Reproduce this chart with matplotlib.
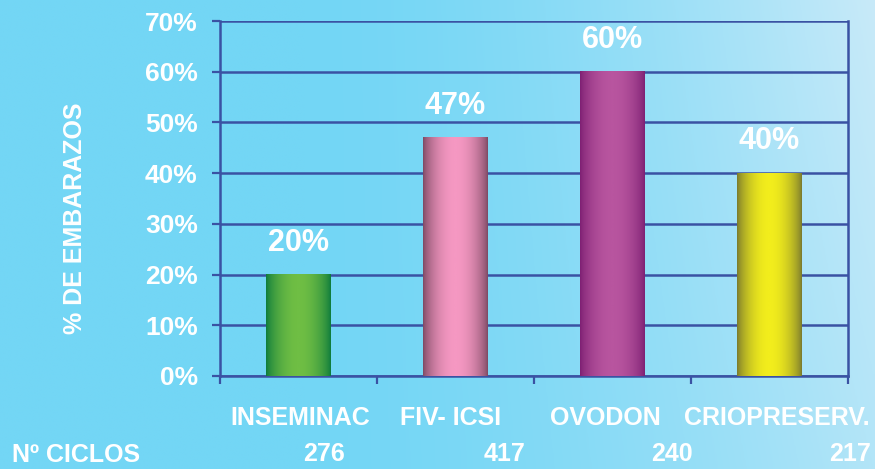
import matplotlib.pyplot as plt
import numpy as np
from matplotlib.colors import LinearSegmentedColormap

# data
categories = ["INSEMINAC", "FIV- ICSI", "OVODON", "CRIOPRESERV."]
values = [20, 47, 60, 40]
ciclos = ["276", "417", "240", "217"]
yticks = [0, 10, 20, 30, 40, 50, 60, 70]

# (edge, center) shading colours of each cylinder
bar_colors = [("#0b7a3c", "#6fbe44"), ("#7a4862", "#f598c2"),
              ("#7c1f72", "#b8559f"), ("#77772e", "#f2ed1c")]
# horizontal offsets of the labels under each bar (layout only)
name_shift = [0.01, -0.03, -0.045, 0.045]
ciclos_shift = [0.16, 0.31, 0.38, 0.51]

plt.rcParams['font.family'] = ['Liberation Sans', 'DejaVu Sans']
plt.rcParams['font.weight'] = 'bold'

fig = plt.figure(figsize=(8.75, 4.69), dpi=100)

# background gradient
bg = fig.add_axes([0, 0, 1, 1], zorder=-10)
xx, yy = np.meshgrid(np.linspace(0, 1, 300), np.linspace(0, 1, 160))
t = np.clip((xx - 0.35) / 0.65, 0, 1) ** 1.6 * (0.75 + 0.25 * yy)
left = np.array([115, 214, 245]) / 255
right = np.array([200, 234, 249]) / 255
img = left[None, None, :] * (1 - t[..., None]) + right[None, None, :] * t[..., None]
bg.imshow(img, origin='lower', aspect='auto', extent=[0, 1, 0, 1])
bg.axis('off')

ax = fig.add_axes([0.2514, 0.1983, 0.7178, 0.7569])
ax.patch.set_alpha(0)
line_col = "#3a52a3"

x = np.arange(len(categories))
bars = ax.bar(x, values, width=0.41, color='none', edgecolor='none', zorder=3)

prof = np.linspace(0, 1, 200)
shade = np.sin(np.pi * prof) ** 0.7
for b, (edge, center), v in zip(bars, bar_colors, values):
    cmap = LinearSegmentedColormap.from_list("c", [edge, center])
    x0, w, h = b.get_x(), b.get_width(), b.get_height()
    ax.imshow(shade[None, :], cmap=cmap, aspect='auto', vmin=0, vmax=1,
              extent=[x0, x0 + w, 0, h], zorder=3)
    ax.annotate(f"{v}%", (x0 + w / 2, h), xytext=(0, 12), textcoords='offset points',
                ha='center', va='bottom', color='white', fontsize=22, fontweight='bold')

ax.set_xlim(-0.5, len(categories) - 0.5)
ax.set_ylim(0, 70)
ax.set_yticks(yticks)
ax.set_yticklabels([f"{v}%" for v in yticks], color='white', fontsize=19, fontweight='bold')
ax.set_xticks(np.arange(len(categories) + 1) - 0.5)
ax.set_xticklabels([])
ax.tick_params(axis='both', direction='out', length=6, width=1.6, color=line_col)
ax.tick_params(axis='y', pad=10)
ax.grid(axis='y', color=line_col, linewidth=1.8, zorder=1)
ax.set_axisbelow(True)
for s in ax.spines.values():
    s.set_color(line_col)
    s.set_linewidth(1.8)
ax.spines['top'].set_visible(False)

fig.text(75 / 875, 1 - 218 / 469, "% DE EMBARAZOS", rotation=90, ha='center', va='center',
         color='white', fontsize=18, fontweight='bold')

for i, name in enumerate(categories):
    ax.text(i + name_shift[i], -0.118, name, transform=ax.get_xaxis_transform(),
            ha='center', va='center', color='white', fontsize=18, fontweight='bold')
    ax.text(i + ciclos_shift[i], -0.22, ciclos[i], transform=ax.get_xaxis_transform(),
            ha='center', va='center', color='white', fontsize=18, fontweight='bold')

fig.text(12 / 875, 1 - 455 / 469, "Nº CICLOS", ha='left', va='center', color='white',
         fontsize=18, fontweight='bold')

fig.savefig("out.png", dpi=100)
